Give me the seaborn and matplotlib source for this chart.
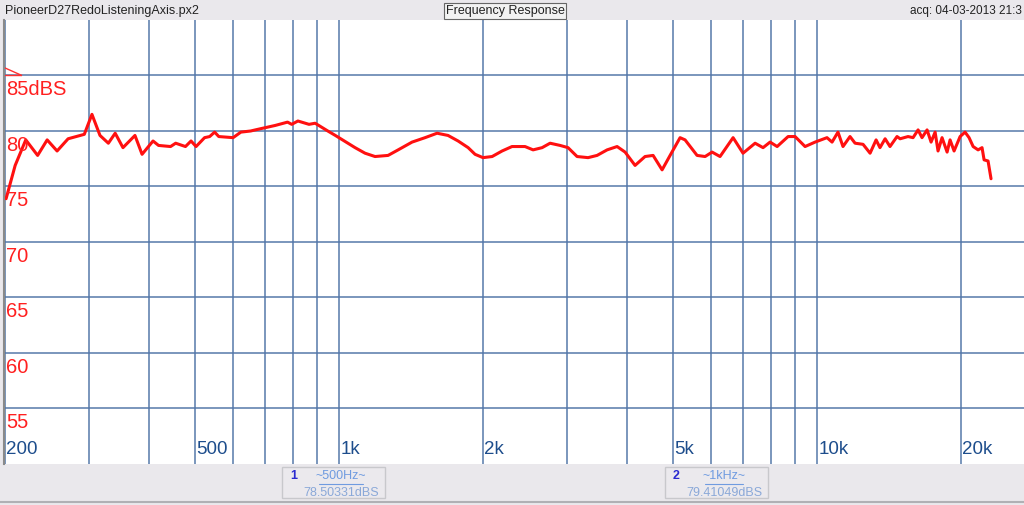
import matplotlib
matplotlib.use("Agg")
import matplotlib.pyplot as plt
from matplotlib.patches import Polygon, Rectangle
import seaborn as sns

freq_hz = [201, 210, 221, 234, 245, 257, 271, 293, 304, 316, 329, 340, 353, 374, 387,
           408, 419, 444, 455, 477, 490, 502, 523, 536, 549, 560, 600, 623, 653, 668,
           684, 735, 780, 796, 820, 865, 891, 947, 982, 1080, 1133, 1189, 1266, 1329,
           1421, 1513, 1603, 1690, 1774, 1862, 1925, 2000, 2090, 2193, 2300, 2449, 2546,
           2659, 2763, 2900, 3013, 3147, 3318, 3465, 3637, 3816, 3966, 4161, 4366, 4539,
           4740, 4926, 5169, 5295, 5610, 5831, 6031, 6266, 6673, 7000, 7419, 7709, 7974,
           8250, 8697, 8995, 9439, 9904, 10490, 10750, 11060, 11330, 11720, 12010, 12480,
           12910, 13290, 13540, 13880, 14210, 14700, 14920, 15500, 15880, 16270, 16580,
           16990, 17320, 17660, 17910, 18260, 18710, 18980, 19350, 19920, 20400, 20800,
           21210, 21720, 22140, 22360, 22790, 23120]
level_db = [73.9, 76.9, 79.2, 77.8, 79.2, 78.2, 79.3, 79.7, 81.5, 79.6, 78.9, 79.8, 78.5,
            79.6, 77.9, 79.1, 78.7, 78.6, 78.9, 78.6, 79.1, 78.6, 79.4, 79.5, 79.9, 79.5,
            79.4, 79.9, 80.0, 80.1, 80.2, 80.5, 80.8, 80.6, 80.9, 80.6, 80.7, 80.0, 79.6,
            78.5, 78.0, 77.7, 77.8, 78.3, 79.0, 79.4, 79.8, 79.6, 79.1, 78.5, 77.9, 77.6,
            77.7, 78.2, 78.6, 78.6, 78.3, 78.5, 78.9, 78.7, 78.5, 77.7, 77.6, 77.8, 78.3,
            78.6, 78.1, 76.9, 77.7, 77.8, 76.5, 77.8, 79.4, 79.2, 77.8, 77.7, 78.1, 77.7,
            79.4, 78.0, 78.9, 78.5, 79.0, 78.6, 79.5, 79.5, 78.6, 79.0, 79.4, 79.0, 79.9,
            78.6, 79.5, 78.9, 78.8, 78.0, 79.2, 78.5, 79.3, 78.6, 79.5, 79.3, 79.5, 79.4,
            80.1, 79.4, 80.1, 79.0, 79.9, 78.2, 79.4, 78.1, 79.2, 78.2, 79.5, 79.9, 79.4,
            78.6, 78.3, 78.5, 77.4, 77.3, 75.7]

grid_freqs = [200, 300, 400, 500, 600, 700, 800, 900, 1000, 2000, 3000, 4000, 5000,
              6000, 7000, 8000, 9000, 10000, 20000]
x_label_freqs = [200, 500, 1000, 2000, 5000, 10000, 20000]
x_labels = ["200", "500", "1k", "2k", "5k", "10k", "20k"]
y_levels = [85, 80, 75, 70, 65, 60, 55]
y_labels = ["85dBS", "80", "75", "70", "65", "60", "55"]

title_left = "PioneerD27RedoListeningAxis.px2"
title_mid = "Frequency Response"
title_right = "acq: 04-03-2013 21:3"
markers = [("1", "~500Hz~", "78.50331dBS"), ("2", "~1kHz~", "79.41049dBS")]

sns.set_style("white")
plt.rcParams["font.family"] = ["Liberation Sans", "DejaVu Sans"]

W, H = 1024, 505
fig = plt.figure(figsize=(W / 100, H / 100), dpi=100, facecolor="#eae8ec")
ax = fig.add_axes([4 / W, 41 / H, 1020 / W, 444 / H])
ax.set_facecolor("white")

ax.set_xscale("log")
ax.set_xlim(199, 27100)
ax.set_ylim(50, 90)
ax.set_xticks(grid_freqs)
ax.set_yticks(y_levels)
ax.minorticks_off()
ax.tick_params(length=0, labelbottom=False, labelleft=False)
ax.grid(True, color="#5276a8", lw=1.2, alpha=0.9)
for side in ["top", "right", "bottom"]:
    ax.spines[side].set_visible(False)
ax.spines["left"].set_color("#8a8a8a")
ax.spines["left"].set_linewidth(1.5)

sns.lineplot(x=freq_hz, y=level_db, ax=ax, color="#ff1010", lw=2.2,
             estimator=None, sort=False)

# axis labels drawn inside the plot, like the analyser does
ytf = ax.get_yaxis_transform()
xtf = ax.get_xaxis_transform()
for lv, lab in zip(y_levels, y_labels):
    ax.annotate(lab, xy=(0, lv), xycoords=ytf, xytext=(1.5, -3.5), textcoords="offset points",
                ha="left", va="top", color="#ff2020", fontsize=14.5)
for f, lab in zip(x_label_freqs, x_labels):
    ax.annotate(lab, xy=(f, 0), xycoords=xtf, xytext=(1, 4.5), textcoords="offset points",
                ha="left", va="bottom", color="#1d4d8c", fontsize=13.5)

# reference level flag
ax.add_patch(Polygon([(0.0, 85), (0.0, 85.72), (0.0176, 85)], closed=True, fill=False,
                     edgecolor="#ff3030", lw=1, transform=ytf, clip_on=False))

# header
fig.text(5 / W, 1 - 11 / H, title_left, ha="left", va="center", fontsize=9, color="#222222")
fig.text(505 / W, 1 - 11 / H, title_mid, ha="center", va="center", fontsize=9, color="#222222",
         bbox=dict(boxstyle="square,pad=0.15", fc="#f2f2f2", ec="#666666", lw=0.8))
fig.text(1022 / W, 1 - 11 / H, title_right, ha="right", va="center", fontsize=8.5,
         color="#222222")

# marker readouts
box_x = [282, 665]
for (num, name, val), bx in zip(markers, box_x):
    fig.patches.append(Rectangle((bx / W, 1 - 498 / H), 103 / W, 31 / H, transform=fig.transFigure,
                                 fc="#ebe9ed", ec="#c8c8cc", lw=1))
    fig.text((bx + 8) / W, 1 - 476 / H, num, ha="left", va="center", fontsize=9,
             color="#2a2ad0", fontweight="bold")
    fig.text((bx + 59) / W, 1 - 476 / H, name, ha="center", va="center", fontsize=9,
             color="#6f9be0")
    fig.text((bx + 59) / W, 1 - 493 / H, val, ha="center", va="center", fontsize=9,
             color="#8aa8d8")
    # underline of the marker name
    half = len(name) * 3.1
    fig.add_artist(plt.Line2D([(bx + 59 - half) / W, (bx + 59 + half) / W], [1 - 484 / H] * 2,
                              transform=fig.transFigure, color="#6f9be0", lw=0.8))
fig.add_artist(plt.Line2D([0, 1], [1 - 502 / H] * 2, transform=fig.transFigure,
                          color="#b0b0b4", lw=1.5))

fig.savefig("out.png", dpi=100, facecolor=fig.get_facecolor())
